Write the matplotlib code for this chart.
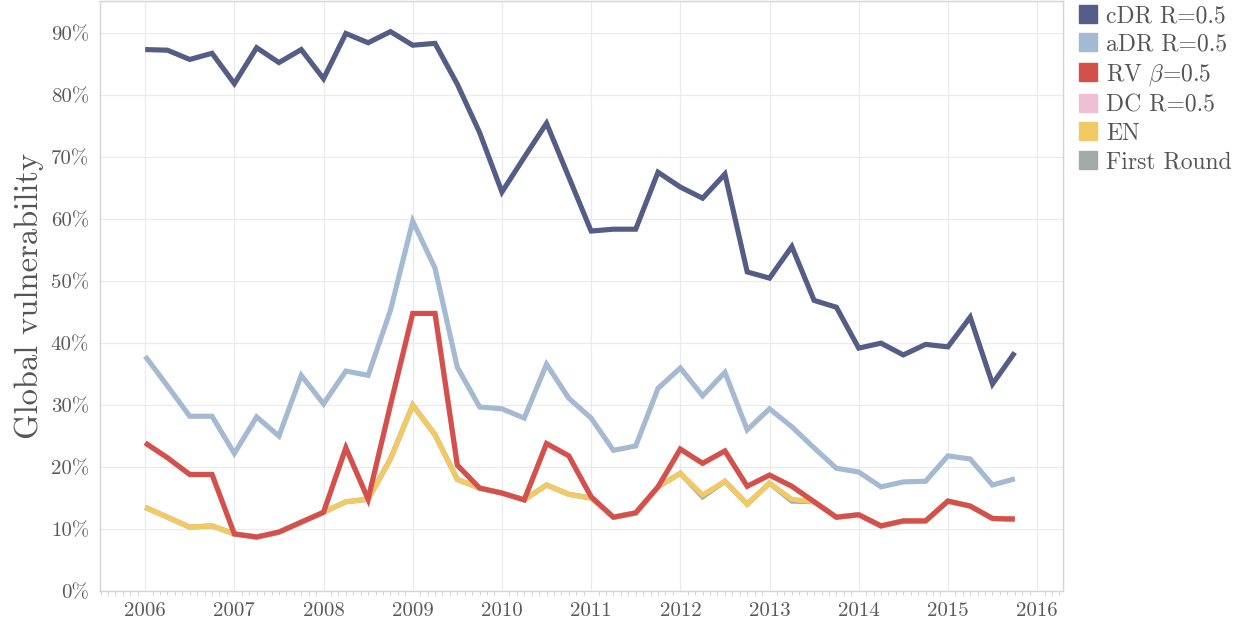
import numpy as np
import matplotlib
matplotlib.use('Agg')
import matplotlib.pyplot as plt
from matplotlib.lines import Line2D
from matplotlib.ticker import MultipleLocator, FuncFormatter

plt.rcParams['font.family'] = ['cmr10', 'DejaVu Serif']
plt.rcParams['mathtext.fontset'] = 'cm'
plt.rcParams['axes.formatter.use_mathtext'] = True

# quarterly values, 2006 Q1 .. 2015 Q4 (percent)
start_year = 2006
cdr = [87.4, 87.3, 85.8, 86.8, 81.9, 87.7, 85.3, 87.4, 82.7, 90.0,
       88.5, 90.3, 88.1, 88.4, 81.8, 74.0, 64.4, 70.0, 75.5, 66.8,
       58.1, 58.4, 58.4, 67.6, 65.2, 63.4, 67.3, 51.5, 50.5, 55.6,
       46.9, 45.8, 39.2, 40.0, 38.1, 39.8, 39.4, 44.2, 33.4, 38.5]
adr = [37.9, 33.1, 28.2, 28.2, 22.2, 28.1, 25.0, 34.8, 30.2, 35.5,
       34.8, 45.3, 59.7, 52.1, 36.1, 29.7, 29.4, 27.9, 36.6, 31.1,
       27.9, 22.7, 23.4, 32.7, 36.0, 31.5, 35.3, 26.0, 29.4, 26.5,
       23.1, 19.8, 19.2, 16.8, 17.6, 17.7, 21.8, 21.3, 17.1, 18.1]
rv = [23.9, 21.5, 18.8, 18.8, 9.2, 8.7, 9.5, 11.1, 12.7, 23.1,
      14.8, 30.0, 44.8, 44.8, 20.3, 16.6, 15.8, 14.7, 23.8, 21.8,
      15.2, 11.9, 12.6, 16.8, 22.9, 20.6, 22.6, 16.9, 18.7, 16.9,
      14.4, 11.9, 12.3, 10.5, 11.3, 11.3, 14.5, 13.7, 11.7, 11.6]
dc = [23.9, 21.5, 18.8, 18.8, 9.2, 8.7, 9.5, 11.1, 12.7, 23.1,
      14.8, 30.0, 44.8, 44.8, 20.3, 16.6, 15.8, 14.7, 23.8, 21.8,
      15.2, 11.9, 12.6, 16.8, 22.9, 20.6, 22.6, 16.9, 18.7, 16.9,
      14.4, 11.9, 12.3, 10.5, 11.3, 11.3, 14.5, 13.7, 11.7, 11.6]
en = [13.5, 11.9, 10.3, 10.5, 9.2, 8.7, 9.5, 11.1, 12.7, 14.4,
      14.8, 21.3, 30.0, 25.2, 18.0, 16.6, 15.8, 14.7, 17.1, 15.6,
      15.0, 11.9, 12.6, 16.8, 19.0, 15.5, 17.7, 14.0, 17.4, 14.8,
      14.4, 11.9, 12.3, 10.5, 11.3, 11.3, 14.5, 13.7, 11.7, 11.6]
fr = [13.5, 11.9, 10.3, 10.5, 9.2, 8.7, 9.5, 11.1, 12.7, 14.4,
      14.8, 21.3, 30.0, 25.2, 18.0, 16.6, 15.8, 14.7, 17.1, 15.6,
      15.0, 11.9, 12.6, 16.8, 19.0, 15.2, 17.7, 14.0, 17.4, 14.5,
      14.4, 11.9, 12.3, 10.5, 11.3, 11.3, 14.5, 13.7, 11.7, 11.6]

labels = ['cDR R=0.5', 'aDR R=0.5', r'RV $\beta$=0.5', 'DC R=0.5', 'EN', 'First Round']
colors = ['#535d85', '#a4b9d2', '#d4504b', '#eec0d1', '#f1c965', '#a2aba9']
series = [cdr, adr, rv, dc, en, fr]

x = start_year + np.arange(len(cdr)) * 0.25

fig = plt.figure(figsize=(12.36, 6.24), dpi=100)
ax = fig.add_axes([0.081, 0.053, 0.779, 0.945])

# first in legend is drawn on top
for i, (s, c) in enumerate(zip(series, colors)):
    ax.plot(x, np.array(s) / 100, color=c, lw=3.7, zorder=10 - i,
            solid_joinstyle='miter', solid_capstyle='butt')

ax.set_xlim(2005.495, 2016.29)
ax.set_ylim(0, 0.952)
ax.xaxis.set_major_locator(MultipleLocator(1))
ax.xaxis.set_minor_locator(MultipleLocator(1 / 12))
ax.yaxis.set_major_locator(MultipleLocator(0.1))
ax.yaxis.set_major_formatter(FuncFormatter(lambda v, p: '%d%%' % round(v * 100)))
ax.xaxis.set_major_formatter(FuncFormatter(lambda v, p: '%d' % v))

ax.grid(True, color='#ebebeb', lw=0.9)
ax.set_axisbelow(True)
for sp in ax.spines.values():
    sp.set_color('#d4d4d4')
    sp.set_linewidth(1.0)

ax.tick_params(axis='both', which='major', length=0, labelsize=15,
               labelcolor='#5a5a5a', pad=8)
ax.tick_params(axis='x', which='minor', length=3, color='#d4d4d4', width=0.8)
ax.tick_params(axis='y', which='minor', length=0)

ax.set_ylabel('Global vulnerability', fontsize=23.5, color='#555555', labelpad=5)

fig.canvas.draw()
ax.get_yticklabels()[0].set_verticalalignment('bottom')

handles = [Line2D([], [], marker='s', ls='none', color=c, markersize=12.5) for c in colors]
fig.legend(handles, labels, loc='upper left', bbox_to_anchor=(0.872, 0.992),
           frameon=False, fontsize=17, handlelength=0.9, handletextpad=0.3,
           labelspacing=0.27, borderaxespad=0, borderpad=0, labelcolor='#555555')

fig.savefig('out.png', dpi=100)
